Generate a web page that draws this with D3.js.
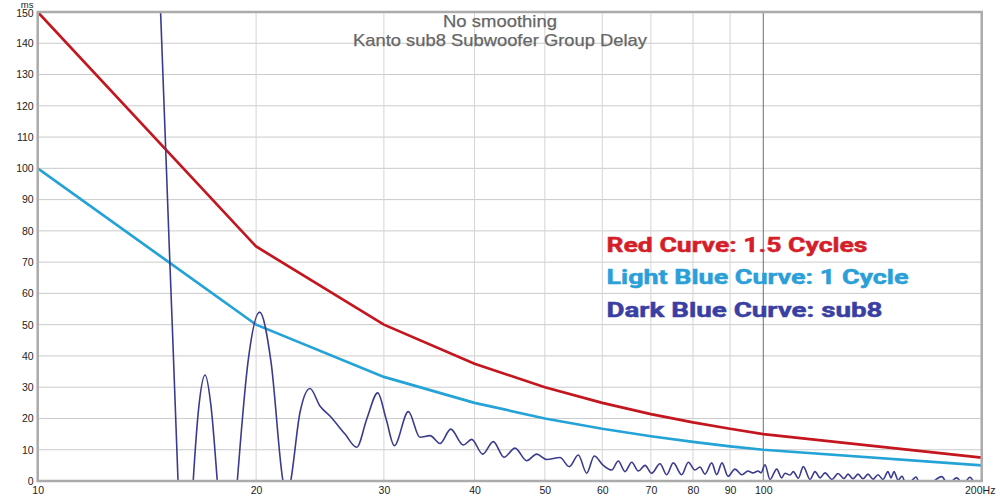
<!DOCTYPE html>
<html>
<head>
<meta charset="utf-8">
<script src="https://cdn.jsdelivr.net/npm/d3@7/dist/d3.min.js"></script>
<style>
  html, body { margin: 0; padding: 0; background: #fff; }
  svg { display: block; }
</style>
</head>
<body>
<svg id="chart" width="1000" height="497"></svg>
<script>
// ---------- DATA ----------
const refFreqs = [10, 20, 30, 40, 50, 60, 70, 80, 90, 100, 200];
const redValues = [150, 75, 50, 37.5, 30, 25, 21.4, 18.75, 16.7, 15, 7.5];
const lightBlueValues = [100, 50, 33.3, 25, 20, 16.7, 14.3, 12.5, 11.1, 10, 5];

const sub8Freqs = [
  14.67, 14.77, 15.17, 15.61, 15.91, 16.38, 16.68, 17.01, 17.33, 17.68,
  18.23, 18.84, 19.49, 20.22, 20.97, 21.78, 22.06, 22.32, 22.99, 23.73,
  24.49, 25.28, 26.52, 27.52, 28.43, 29.42, 30.20, 31.01, 32.42, 33.64,
  34.73, 35.85, 37.09, 38.60, 39.64, 41.05, 42.45, 43.92, 45.48, 47.20,
  48.72, 50.29, 52.46, 54.03, 55.60, 57.10, 58.49, 60.13, 61.81, 63.12,
  64.48, 65.87, 67.26, 68.71, 70.18, 72.05, 73.60, 75.16, 77.19, 78.83,
  80.52, 81.80, 83.11, 84.90, 86.26, 87.72, 89.41, 91.42, 93.47, 95.26,
  96.79, 98.34, 99.28, 100.55, 102.16, 104.35, 106.02, 107.14, 108.85, 110.0,
  111.76, 113.55, 115.99, 117.84, 119.73, 121.64, 124.37, 126.76, 129.20, 130.85,
  132.94, 135.07, 137.23, 139.42, 141.65, 143.92, 146.22, 148.56, 149.98, 151.41,
  153.35, 155.31, 157.29, 160.32, 162.37, 164.44, 168.7, 176.16, 179.7, 184.75,
  188.5, 192.71, 196.4, 200
];
const sub8Values = [
  167, 150, 77, 0, -60, 0, 24, 33.9, 24, 0,
  -45, 0, 38, 54, 38, 0, -5, 0, 22, 29.6,
  24, 20.8, 15, 10.8, 20, 28.2, 20, 11.3, 22.2, 14,
  14.5, 12, 16.6, 11.5, 13.3, 8.6, 12.6, 7.6, 10.5, 6.5,
  8.6, 6.9, 7.5, 4.6, 8.3, 2.5, 8, 5.1, 3.5, 6.4,
  3, 6, 3.2, 5.0, 2.5, 5.5, 2.0, 5.8, 2.0, 6.0,
  3.5, 4.5, 2.2, 5.8, 2.0, 5.8, 1.5, 3.8, 2.0, 3.2,
  2.6, 3.2, 2.6, 5.2, 0.5, 3.8, 1.0, 2.5, 1.9, 3.0,
  0.9, 4.6, 0.5, 3.0, 1.0, 2.6, 0.5, 2.4, 0.8, 2.2,
  0.7, 2.2, 0.7, 2.2, 0.6, 2.0, 0.5, 3.0, 1.0, 3.0,
  0.3, 1.5, -1, 0.2, 1.3, -1, -1, 1.4, -1, 1.0,
  -1, 1.2, -1, 0.3
];

const yTicks = [0, 10, 20, 30, 40, 50, 60, 70, 80, 90, 100, 110, 120, 130, 140, 150];
const xTicks = [10, 20, 30, 40, 50, 60, 70, 80, 90, 100, 200];
const xTickLabels = ["10", "20", "30", "40", "50", "60", "70", "80", "90", "100", "200Hz"];

const titleLines = ["No smoothing", "Kanto sub8 Subwoofer Group Delay"];
const legendLabels = ["Red Curve: 1.5 Cycles", "Light Blue Curve: 1 Cycle", "Dark Blue Curve: sub8"];

(function () {
// ---------- LAYOUT ----------
const pL = 37.7, pR = 981.7, pT = 12, pB = 481;
const svg = d3.select("#chart");
svg.append("rect").attr("width", 1000).attr("height", 497).attr("fill", "#fff");

const x = d3.scaleLog().domain([10, 200]).range([pL, pR]);
const y = d3.scaleLinear().domain([0, 150]).range([pB, pT]);

// grid
const grid = svg.append("g");
grid.selectAll("line.h").data(yTicks.filter(d => d > 0 && d < 150)).join("line")
  .attr("class", "h")
  .attr("x1", pL).attr("x2", pR)
  .attr("y1", d => y(d)).attr("y2", d => y(d))
  .attr("stroke", "#cbcbcb").attr("stroke-width", 1);
grid.selectAll("line.v").data(xTicks.filter(d => d > 10 && d < 200)).join("line")
  .attr("class", "v")
  .attr("x1", d => x(d)).attr("x2", d => x(d))
  .attr("y1", pT).attr("y2", pB)
  .attr("stroke", d => d === 100 ? "#6e6e6e" : "#d4d4d4").attr("stroke-width", 1);

// clip
svg.append("clipPath").attr("id", "plotclip").append("rect")
  .attr("x", pL).attr("y", pT).attr("width", pR - pL).attr("height", pB - pT);

// title
const title = svg.append("g").attr("font-family", "Liberation Sans, Arial, sans-serif")
  .attr("fill", "#666").attr("text-anchor", "middle").attr("font-size", 17)
  .attr("stroke", "#666").attr("stroke-width", 0.25);
title.append("text").attr("x", 500).attr("y", 27).attr("textLength", 114).attr("lengthAdjust", "spacingAndGlyphs").text(titleLines[0]);
title.append("text").attr("x", 500).attr("y", 45.7).attr("textLength", 294).attr("lengthAdjust", "spacingAndGlyphs").text(titleLines[1]);

// curves
const plot = svg.append("g").attr("clip-path", "url(#plotclip)");
const refLine = d3.line().x((d, i) => x(refFreqs[i])).y(d => y(d)).curve(d3.curveLinear);
plot.append("path").datum(redValues).attr("d", refLine)
  .attr("fill", "none").attr("stroke", "#c3161e").attr("stroke-width", 2.7);
plot.append("path").datum(lightBlueValues).attr("d", refLine)
  .attr("fill", "none").attr("stroke", "#24a3d6").attr("stroke-width", 2.7);
const subLine = d3.line().x((d, i) => x(sub8Freqs[i])).y(d => y(d)).curve(d3.curveMonotoneX);
plot.append("path").datum(sub8Values).attr("d", subLine)
  .attr("fill", "none").attr("stroke", "#3a3b8e").attr("stroke-width", 1.6);

// frame
svg.append("rect").attr("x", pL).attr("y", pT).attr("width", pR - pL).attr("height", pB - pT)
  .attr("fill", "none").attr("stroke", "#ababab").attr("stroke-width", 2.5);

// axes
const yAxis = d3.axisLeft(y).tickValues(yTicks).tickSize(0).tickPadding(4);
const gy = svg.append("g").attr("transform", `translate(${pL},0)`).call(yAxis);
gy.select(".domain").remove();
gy.selectAll("text").attr("font-family", "Liberation Sans, Arial, sans-serif").attr("font-size", 10.5).attr("fill", "#222");
gy.selectAll("text").filter(d => d === 150).attr("dy", "0.4em");

const xAxis = d3.axisBottom(x).tickValues(xTicks).tickSize(0).tickPadding(6)
  .tickFormat((d, i) => xTickLabels[i]);
const gx = svg.append("g").attr("transform", `translate(0,${pB})`).call(xAxis);
gx.select(".domain").remove();
gx.selectAll("text").attr("font-family", "Liberation Sans, Arial, sans-serif").attr("font-size", 10.5).attr("fill", "#222");
gx.selectAll("text").filter((d) => d === 200).attr("dx", -2);

svg.append("text").attr("x", 33.5).attr("y", 8).attr("text-anchor", "end")
  .attr("font-family", "Liberation Sans, Arial, sans-serif").attr("font-size", 9.5).attr("fill", "#222").text("ms");

// legend
const legendColors = ["#d41f2a", "#2a9fd8", "#3a3fa3"];
const legendWidths = [261, 302, 276];
const legendBase = [251.7, 283.5, 316.5];
const lg = svg.append("g").attr("font-family", "Roboto, sans-serif").attr("font-weight", "bold").attr("font-size", 21);
lg.selectAll("text").data(legendLabels).join("text")
  .attr("x", 606.5).attr("y", (d, i) => legendBase[i])
  .attr("fill", (d, i) => legendColors[i])
  .attr("stroke", (d, i) => legendColors[i]).attr("stroke-width", 0.5)
  .attr("textLength", (d, i) => legendWidths[i]).attr("lengthAdjust", "spacingAndGlyphs")
  .text(d => d);
})();
</script>
</body>
</html>
